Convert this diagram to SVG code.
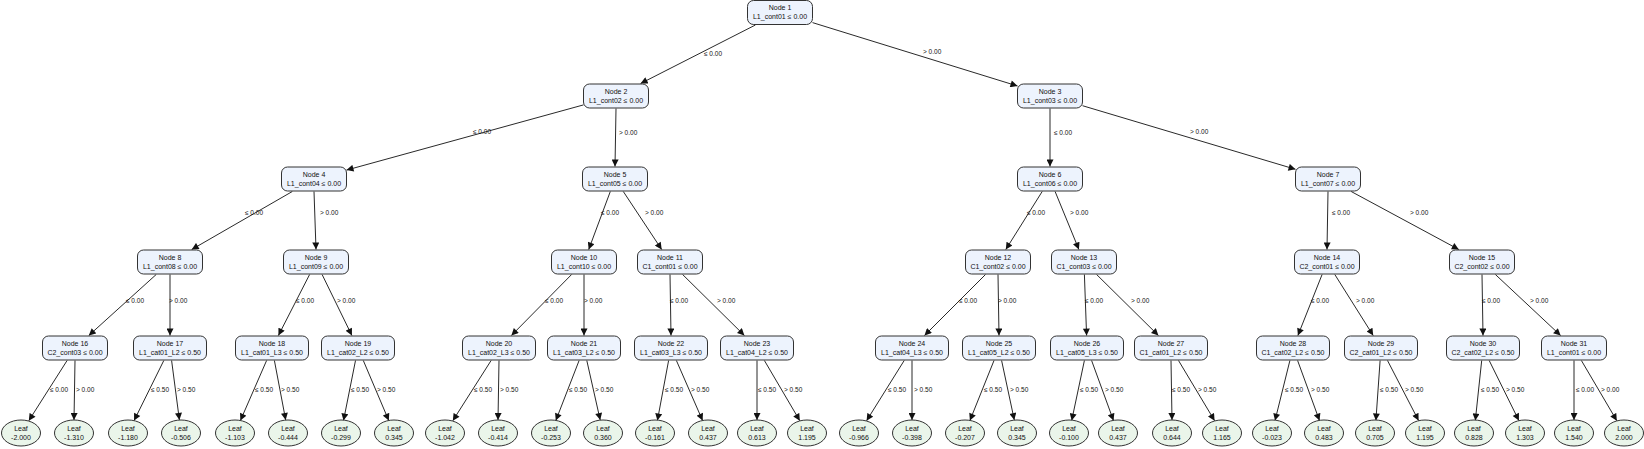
<svg xmlns="http://www.w3.org/2000/svg" width="1644" height="449" viewBox="0 0 1644 449">
<style>
text{font-family:"Liberation Sans",Arial,sans-serif;font-size:7px;fill:#111;text-anchor:middle}
.n rect{fill:#edf3fd;stroke:#333;stroke-width:1}
.l ellipse{fill:#eaf5ea;stroke:#333;stroke-width:1}
#edges line{stroke:#111;stroke-width:0.9;marker-end:url(#a)}
#edges text{text-anchor:start;font-size:6.5px}
</style>
<defs><marker id="a" viewBox="0 0 10 10" refX="10" refY="5" markerWidth="8" markerHeight="7" markerUnits="userSpaceOnUse" orient="auto"><path d="M0,0L10,5L0,10z" fill="#111"/></marker></defs>
<rect width="1644" height="449" fill="#fff"/>
<g id="edges">
<line x1="755.4" y1="25" x2="640.6" y2="83.5"/><text x="704" y="56">≤ 0.00</text>
<line x1="812.5" y1="22.6" x2="1017.5" y2="86"/><text x="923" y="54">&gt; 0.00</text>
<line x1="583.5" y1="104.9" x2="346.5" y2="170.1"/><text x="473" y="134">≤ 0.00</text>
<line x1="616" y1="108.5" x2="615" y2="166.5"/><text x="619" y="135">&gt; 0.00</text>
<line x1="1050" y1="108.5" x2="1050" y2="166.5"/><text x="1054" y="135">≤ 0.00</text>
<line x1="1082.5" y1="105.7" x2="1295.5" y2="169.3"/><text x="1190" y="134">&gt; 0.00</text>
<line x1="292.3" y1="191.5" x2="191.7" y2="249.5"/><text x="245" y="215">≤ 0.00</text>
<line x1="314" y1="191.5" x2="316" y2="249.5"/><text x="320" y="215">&gt; 0.00</text>
<line x1="610.3" y1="191.5" x2="588.7" y2="249.5"/><text x="601" y="215">≤ 0.00</text>
<line x1="623.3" y1="191.5" x2="661.7" y2="249.5"/><text x="645" y="215">&gt; 0.00</text>
<line x1="1042.2" y1="191.5" x2="1005.8" y2="249.5"/><text x="1027" y="215">≤ 0.00</text>
<line x1="1055.1" y1="191.5" x2="1078.9" y2="249.5"/><text x="1070" y="215">&gt; 0.00</text>
<line x1="1328" y1="191.5" x2="1327" y2="249.5"/><text x="1332" y="215">≤ 0.00</text>
<line x1="1351.2" y1="191.5" x2="1458.8" y2="249.5"/><text x="1410" y="215">&gt; 0.00</text>
<line x1="156.2" y1="274.5" x2="88.8" y2="335.5"/><text x="126" y="303">≤ 0.00</text>
<line x1="170" y1="274.5" x2="170" y2="335.5"/><text x="169" y="303">&gt; 0.00</text>
<line x1="309.6" y1="274.5" x2="278.4" y2="335.5"/><text x="296" y="303">≤ 0.00</text>
<line x1="322.1" y1="274.5" x2="351.9" y2="335.5"/><text x="337" y="303">&gt; 0.00</text>
<line x1="571.6" y1="274.5" x2="511.4" y2="335.5"/><text x="545" y="303">≤ 0.00</text>
<line x1="584" y1="274.5" x2="584" y2="335.5"/><text x="584" y="303">&gt; 0.00</text>
<line x1="670" y1="274.5" x2="671" y2="335.5"/><text x="670" y="303">≤ 0.00</text>
<line x1="682.6" y1="274.5" x2="744.4" y2="335.5"/><text x="717" y="303">&gt; 0.00</text>
<line x1="985.5" y1="274.5" x2="924.5" y2="335.5"/><text x="959" y="303">≤ 0.00</text>
<line x1="998" y1="274.5" x2="999" y2="335.5"/><text x="998" y="303">&gt; 0.00</text>
<line x1="1084.4" y1="274.5" x2="1086.6" y2="335.5"/><text x="1085" y="303">≤ 0.00</text>
<line x1="1096.6" y1="274.5" x2="1158.4" y2="335.5"/><text x="1131" y="303">&gt; 0.00</text>
<line x1="1322.1" y1="274.5" x2="1297.9" y2="335.5"/><text x="1311" y="303">≤ 0.00</text>
<line x1="1334.8" y1="274.5" x2="1373.2" y2="335.5"/><text x="1356" y="303">&gt; 0.00</text>
<line x1="1482" y1="274.5" x2="1483" y2="335.5"/><text x="1482" y="303">≤ 0.00</text>
<line x1="1495.4" y1="274.5" x2="1560.6" y2="335.5"/><text x="1530" y="303">&gt; 0.00</text>
<line x1="67.1" y1="360.5" x2="28.8" y2="420.7"/><text x="50" y="392">≤ 0.00</text>
<line x1="75" y1="360.5" x2="74" y2="420"/><text x="76" y="392">&gt; 0.00</text>
<line x1="163.8" y1="360.5" x2="134.1" y2="420.6"/><text x="151" y="392">≤ 0.50</text>
<line x1="171.6" y1="360.5" x2="179.4" y2="420"/><text x="177" y="392">&gt; 0.50</text>
<line x1="266.6" y1="360.5" x2="240.4" y2="420.6"/><text x="255" y="392">≤ 0.50</text>
<line x1="274.4" y1="360.5" x2="285.7" y2="420"/><text x="281" y="392">&gt; 0.50</text>
<line x1="355.5" y1="360.5" x2="343.5" y2="420.6"/><text x="351" y="392">≤ 0.50</text>
<line x1="363.3" y1="360.5" x2="388.8" y2="420.6"/><text x="377" y="392">&gt; 0.50</text>
<line x1="491.1" y1="360.5" x2="452.8" y2="420.7"/><text x="474" y="392">≤ 0.50</text>
<line x1="499" y1="360.5" x2="498" y2="420"/><text x="500" y="392">&gt; 0.50</text>
<line x1="579.1" y1="360.5" x2="555.8" y2="420.6"/><text x="569" y="392">≤ 0.50</text>
<line x1="586.8" y1="360.5" x2="600.2" y2="420"/><text x="595" y="392">&gt; 0.50</text>
<line x1="668.6" y1="360.5" x2="657.4" y2="420.6"/><text x="665" y="392">≤ 0.50</text>
<line x1="676.4" y1="360.5" x2="702.6" y2="420.6"/><text x="691" y="392">&gt; 0.50</text>
<line x1="757" y1="360.5" x2="757" y2="420"/><text x="758" y="392">≤ 0.50</text>
<line x1="764.4" y1="360.5" x2="799.8" y2="420.7"/><text x="784" y="392">&gt; 0.50</text>
<line x1="904.2" y1="360.5" x2="866.6" y2="420.7"/><text x="888" y="392">≤ 0.50</text>
<line x1="912" y1="360.5" x2="912" y2="420"/><text x="914" y="392">&gt; 0.50</text>
<line x1="994" y1="360.5" x2="969.9" y2="420.6"/><text x="984" y="392">≤ 0.50</text>
<line x1="1001.6" y1="360.5" x2="1014.3" y2="420"/><text x="1010" y="392">&gt; 0.50</text>
<line x1="1084.4" y1="360.5" x2="1071.7" y2="420.6"/><text x="1080" y="392">≤ 0.50</text>
<line x1="1091.6" y1="360.5" x2="1113.5" y2="420.6"/><text x="1105" y="392">&gt; 0.50</text>
<line x1="1171" y1="360.5" x2="1172" y2="420"/><text x="1172" y="392">≤ 0.50</text>
<line x1="1178.5" y1="360.5" x2="1214.6" y2="420.7"/><text x="1198" y="392">&gt; 0.50</text>
<line x1="1289.9" y1="360.5" x2="1275" y2="420.6"/><text x="1285" y="392">≤ 0.50</text>
<line x1="1297.6" y1="360.5" x2="1319.5" y2="420.6"/><text x="1311" y="392">&gt; 0.50</text>
<line x1="1380.1" y1="360.5" x2="1375.9" y2="420.6"/><text x="1380" y="392">≤ 0.50</text>
<line x1="1387.5" y1="360.5" x2="1418.6" y2="420.6"/><text x="1405" y="392">&gt; 0.50</text>
<line x1="1481.7" y1="360.5" x2="1475.3" y2="420.6"/><text x="1481" y="392">≤ 0.50</text>
<line x1="1489.2" y1="360.5" x2="1518.9" y2="420.6"/><text x="1506" y="392">&gt; 0.50</text>
<line x1="1574" y1="360.5" x2="1574" y2="420"/><text x="1576" y="392">≤ 0.00</text>
<line x1="1581.4" y1="360.5" x2="1616.8" y2="420.7"/><text x="1601" y="392">&gt; 0.00</text>
</g>
<g id="n1" class="n"><rect x="747.5" y="0.5" width="65" height="24" rx="6"/><text x="780" y="10">Node 1</text><text x="780" y="19">L1_cont01 ≤ 0.00</text></g>
<g id="n2" class="n"><rect x="583.5" y="84" width="65" height="24" rx="6"/><text x="616" y="93.5">Node 2</text><text x="616" y="102.5">L1_cont02 ≤ 0.00</text></g>
<g id="n3" class="n"><rect x="1017.5" y="84" width="65" height="24" rx="6"/><text x="1050" y="93.5">Node 3</text><text x="1050" y="102.5">L1_cont03 ≤ 0.00</text></g>
<g id="n4" class="n"><rect x="281.5" y="167" width="65" height="24" rx="6"/><text x="314" y="176.5">Node 4</text><text x="314" y="185.5">L1_cont04 ≤ 0.00</text></g>
<g id="n5" class="n"><rect x="582.5" y="167" width="65" height="24" rx="6"/><text x="615" y="176.5">Node 5</text><text x="615" y="185.5">L1_cont05 ≤ 0.00</text></g>
<g id="n6" class="n"><rect x="1017.5" y="167" width="65" height="24" rx="6"/><text x="1050" y="176.5">Node 6</text><text x="1050" y="185.5">L1_cont06 ≤ 0.00</text></g>
<g id="n7" class="n"><rect x="1295.5" y="167" width="65" height="24" rx="6"/><text x="1328" y="176.5">Node 7</text><text x="1328" y="185.5">L1_cont07 ≤ 0.00</text></g>
<g id="n8" class="n"><rect x="137.5" y="250" width="65" height="24" rx="6"/><text x="170" y="259.5">Node 8</text><text x="170" y="268.5">L1_cont08 ≤ 0.00</text></g>
<g id="n9" class="n"><rect x="283.5" y="250" width="65" height="24" rx="6"/><text x="316" y="259.5">Node 9</text><text x="316" y="268.5">L1_cont09 ≤ 0.00</text></g>
<g id="n10" class="n"><rect x="551.5" y="250" width="65" height="24" rx="6"/><text x="584" y="259.5">Node 10</text><text x="584" y="268.5">L1_cont10 ≤ 0.00</text></g>
<g id="n11" class="n"><rect x="637.5" y="250" width="65" height="24" rx="6"/><text x="670" y="259.5">Node 11</text><text x="670" y="268.5">C1_cont01 ≤ 0.00</text></g>
<g id="n12" class="n"><rect x="965.5" y="250" width="65" height="24" rx="6"/><text x="998" y="259.5">Node 12</text><text x="998" y="268.5">C1_cont02 ≤ 0.00</text></g>
<g id="n13" class="n"><rect x="1051.5" y="250" width="65" height="24" rx="6"/><text x="1084" y="259.5">Node 13</text><text x="1084" y="268.5">C1_cont03 ≤ 0.00</text></g>
<g id="n14" class="n"><rect x="1294.5" y="250" width="65" height="24" rx="6"/><text x="1327" y="259.5">Node 14</text><text x="1327" y="268.5">C2_cont01 ≤ 0.00</text></g>
<g id="n15" class="n"><rect x="1449.5" y="250" width="65" height="24" rx="6"/><text x="1482" y="259.5">Node 15</text><text x="1482" y="268.5">C2_cont02 ≤ 0.00</text></g>
<g id="n16" class="n"><rect x="42.5" y="336" width="65" height="24" rx="6"/><text x="75" y="345.5">Node 16</text><text x="75" y="354.5">C2_cont03 ≤ 0.00</text></g>
<g id="n17" class="n"><rect x="133.5" y="336" width="73" height="24" rx="6"/><text x="170" y="345.5">Node 17</text><text x="170" y="354.5">L1_cat01_L2 ≤ 0.50</text></g>
<g id="n18" class="n"><rect x="235.5" y="336" width="73" height="24" rx="6"/><text x="272" y="345.5">Node 18</text><text x="272" y="354.5">L1_cat01_L3 ≤ 0.50</text></g>
<g id="n19" class="n"><rect x="321.5" y="336" width="73" height="24" rx="6"/><text x="358" y="345.5">Node 19</text><text x="358" y="354.5">L1_cat02_L2 ≤ 0.50</text></g>
<g id="n20" class="n"><rect x="462.5" y="336" width="73" height="24" rx="6"/><text x="499" y="345.5">Node 20</text><text x="499" y="354.5">L1_cat02_L3 ≤ 0.50</text></g>
<g id="n21" class="n"><rect x="547.5" y="336" width="73" height="24" rx="6"/><text x="584" y="345.5">Node 21</text><text x="584" y="354.5">L1_cat03_L2 ≤ 0.50</text></g>
<g id="n22" class="n"><rect x="634.5" y="336" width="73" height="24" rx="6"/><text x="671" y="345.5">Node 22</text><text x="671" y="354.5">L1_cat03_L3 ≤ 0.50</text></g>
<g id="n23" class="n"><rect x="720.5" y="336" width="73" height="24" rx="6"/><text x="757" y="345.5">Node 23</text><text x="757" y="354.5">L1_cat04_L2 ≤ 0.50</text></g>
<g id="n24" class="n"><rect x="875.5" y="336" width="73" height="24" rx="6"/><text x="912" y="345.5">Node 24</text><text x="912" y="354.5">L1_cat04_L3 ≤ 0.50</text></g>
<g id="n25" class="n"><rect x="962.5" y="336" width="73" height="24" rx="6"/><text x="999" y="345.5">Node 25</text><text x="999" y="354.5">L1_cat05_L2 ≤ 0.50</text></g>
<g id="n26" class="n"><rect x="1050.5" y="336" width="73" height="24" rx="6"/><text x="1087" y="345.5">Node 26</text><text x="1087" y="354.5">L1_cat05_L3 ≤ 0.50</text></g>
<g id="n27" class="n"><rect x="1134.5" y="336" width="73" height="24" rx="6"/><text x="1171" y="345.5">Node 27</text><text x="1171" y="354.5">C1_cat01_L2 ≤ 0.50</text></g>
<g id="n28" class="n"><rect x="1256.5" y="336" width="73" height="24" rx="6"/><text x="1293" y="345.5">Node 28</text><text x="1293" y="354.5">C1_cat02_L2 ≤ 0.50</text></g>
<g id="n29" class="n"><rect x="1344.5" y="336" width="73" height="24" rx="6"/><text x="1381" y="345.5">Node 29</text><text x="1381" y="354.5">C2_cat01_L2 ≤ 0.50</text></g>
<g id="n30" class="n"><rect x="1446.5" y="336" width="73" height="24" rx="6"/><text x="1483" y="345.5">Node 30</text><text x="1483" y="354.5">C2_cat02_L2 ≤ 0.50</text></g>
<g id="n31" class="n"><rect x="1541.5" y="336" width="65" height="24" rx="6"/><text x="1574" y="345.5">Node 31</text><text x="1574" y="354.5">L1_cont01 ≤ 0.00</text></g>
<g id="l1" class="l"><ellipse cx="21" cy="433" rx="19.5" ry="13"/><text x="21" y="431">Leaf</text><text x="21" y="440">-2.000</text></g>
<g id="l2" class="l"><ellipse cx="74" cy="433" rx="19.5" ry="13"/><text x="74" y="431">Leaf</text><text x="74" y="440">-1.310</text></g>
<g id="l3" class="l"><ellipse cx="128" cy="433" rx="19.5" ry="13"/><text x="128" y="431">Leaf</text><text x="128" y="440">-1.180</text></g>
<g id="l4" class="l"><ellipse cx="181" cy="433" rx="19.5" ry="13"/><text x="181" y="431">Leaf</text><text x="181" y="440">-0.506</text></g>
<g id="l5" class="l"><ellipse cx="235" cy="433" rx="19.5" ry="13"/><text x="235" y="431">Leaf</text><text x="235" y="440">-1.103</text></g>
<g id="l6" class="l"><ellipse cx="288" cy="433" rx="19.5" ry="13"/><text x="288" y="431">Leaf</text><text x="288" y="440">-0.444</text></g>
<g id="l7" class="l"><ellipse cx="341" cy="433" rx="19.5" ry="13"/><text x="341" y="431">Leaf</text><text x="341" y="440">-0.299</text></g>
<g id="l8" class="l"><ellipse cx="394" cy="433" rx="19.5" ry="13"/><text x="394" y="431">Leaf</text><text x="394" y="440">0.345</text></g>
<g id="l9" class="l"><ellipse cx="445" cy="433" rx="19.5" ry="13"/><text x="445" y="431">Leaf</text><text x="445" y="440">-1.042</text></g>
<g id="l10" class="l"><ellipse cx="498" cy="433" rx="19.5" ry="13"/><text x="498" y="431">Leaf</text><text x="498" y="440">-0.414</text></g>
<g id="l11" class="l"><ellipse cx="551" cy="433" rx="19.5" ry="13"/><text x="551" y="431">Leaf</text><text x="551" y="440">-0.253</text></g>
<g id="l12" class="l"><ellipse cx="603" cy="433" rx="19.5" ry="13"/><text x="603" y="431">Leaf</text><text x="603" y="440">0.360</text></g>
<g id="l13" class="l"><ellipse cx="655" cy="433" rx="19.5" ry="13"/><text x="655" y="431">Leaf</text><text x="655" y="440">-0.161</text></g>
<g id="l14" class="l"><ellipse cx="708" cy="433" rx="19.5" ry="13"/><text x="708" y="431">Leaf</text><text x="708" y="440">0.437</text></g>
<g id="l15" class="l"><ellipse cx="757" cy="433" rx="19.5" ry="13"/><text x="757" y="431">Leaf</text><text x="757" y="440">0.613</text></g>
<g id="l16" class="l"><ellipse cx="807" cy="433" rx="19.5" ry="13"/><text x="807" y="431">Leaf</text><text x="807" y="440">1.195</text></g>
<g id="l17" class="l"><ellipse cx="859" cy="433" rx="19.5" ry="13"/><text x="859" y="431">Leaf</text><text x="859" y="440">-0.966</text></g>
<g id="l18" class="l"><ellipse cx="912" cy="433" rx="19.5" ry="13"/><text x="912" y="431">Leaf</text><text x="912" y="440">-0.398</text></g>
<g id="l19" class="l"><ellipse cx="965" cy="433" rx="19.5" ry="13"/><text x="965" y="431">Leaf</text><text x="965" y="440">-0.207</text></g>
<g id="l20" class="l"><ellipse cx="1017" cy="433" rx="19.5" ry="13"/><text x="1017" y="431">Leaf</text><text x="1017" y="440">0.345</text></g>
<g id="l21" class="l"><ellipse cx="1069" cy="433" rx="19.5" ry="13"/><text x="1069" y="431">Leaf</text><text x="1069" y="440">-0.100</text></g>
<g id="l22" class="l"><ellipse cx="1118" cy="433" rx="19.5" ry="13"/><text x="1118" y="431">Leaf</text><text x="1118" y="440">0.437</text></g>
<g id="l23" class="l"><ellipse cx="1172" cy="433" rx="19.5" ry="13"/><text x="1172" y="431">Leaf</text><text x="1172" y="440">0.644</text></g>
<g id="l24" class="l"><ellipse cx="1222" cy="433" rx="19.5" ry="13"/><text x="1222" y="431">Leaf</text><text x="1222" y="440">1.165</text></g>
<g id="l25" class="l"><ellipse cx="1272" cy="433" rx="19.5" ry="13"/><text x="1272" y="431">Leaf</text><text x="1272" y="440">-0.023</text></g>
<g id="l26" class="l"><ellipse cx="1324" cy="433" rx="19.5" ry="13"/><text x="1324" y="431">Leaf</text><text x="1324" y="440">0.483</text></g>
<g id="l27" class="l"><ellipse cx="1375" cy="433" rx="19.5" ry="13"/><text x="1375" y="431">Leaf</text><text x="1375" y="440">0.705</text></g>
<g id="l28" class="l"><ellipse cx="1425" cy="433" rx="19.5" ry="13"/><text x="1425" y="431">Leaf</text><text x="1425" y="440">1.195</text></g>
<g id="l29" class="l"><ellipse cx="1474" cy="433" rx="19.5" ry="13"/><text x="1474" y="431">Leaf</text><text x="1474" y="440">0.828</text></g>
<g id="l30" class="l"><ellipse cx="1525" cy="433" rx="19.5" ry="13"/><text x="1525" y="431">Leaf</text><text x="1525" y="440">1.303</text></g>
<g id="l31" class="l"><ellipse cx="1574" cy="433" rx="19.5" ry="13"/><text x="1574" y="431">Leaf</text><text x="1574" y="440">1.540</text></g>
<g id="l32" class="l"><ellipse cx="1624" cy="433" rx="19.5" ry="13"/><text x="1624" y="431">Leaf</text><text x="1624" y="440">2.000</text></g>
</svg>
